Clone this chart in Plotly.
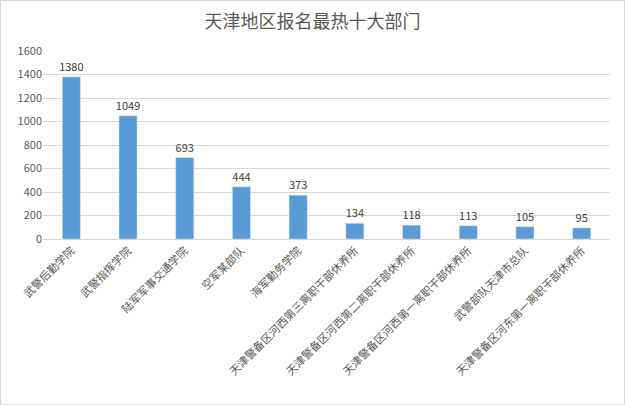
import plotly.graph_objects as go

categories = ["武警后勤学院", "武警指挥学院", "陆军军事交通学院", "空军某部队", "海军勤务学院",
              "天津警备区河西第三离职干部休养所", "天津警备区河西第二离职干部休养所",
              "天津警备区河西第一离职干部休养所", "武警部队天津市总队", "天津警备区河东第一离职干部休养所"]
values = [1380, 1049, 693, 444, 373, 134, 118, 113, 105, 95]
y_ticks = [0, 200, 400, 600, 800, 1000, 1200, 1400, 1600]

W, H = 625, 405
ml, mr, mt, mb = 43, 15, 51, 166
pw, ph = W - ml - mr, H - mt - mb

fig = go.Figure(go.Bar(
    x=categories, y=values, marker_color="#5B9BD5",
    text=values, textposition="outside", cliponaxis=False, constraintext="none",
    textfont=dict(size=11, color="#404040"),
))

fig.update_layout(
    width=W, height=H,
    margin=dict(l=ml, r=mr, t=mt, b=mb, autoexpand=False),
    paper_bgcolor="white", plot_bgcolor="white",
    font=dict(family="Noto Sans CJK SC", color="#595959", size=11),
    title=dict(text="天津地区报名最热十大部门", x=0.5, xanchor="center", y=1 - 22 / H, yanchor="middle",
               font=dict(size=18, color="#595959")),
    bargap=0.68,
    showlegend=False,
    uniformtext=dict(mode=False),
    shapes=[dict(type="rect", xref="paper", yref="paper",
                 x0=-ml / pw + 0.5 / pw, x1=1 + (mr - 0.5) / pw,
                 y0=-mb / ph + 0.5 / ph, y1=1 + (mt - 0.5) / ph,
                 line=dict(color="#D9D9D9", width=1))],
)
fig.update_xaxes(tickangle=-45, showline=True, linecolor="#D9D9D9", ticks="", automargin=False,
                 tickfont=dict(size=11, color="#595959"))
fig.update_yaxes(range=[0, 1600], tickvals=y_ticks, showgrid=True, gridcolor="#D9D9D9", automargin=False,
                 zeroline=False, showline=False, ticks="", tickfont=dict(size=11, color="#595959"))

fig.write_html("out.html", config={"displayModeBar": False},
               post_script="document.body.style.margin='0';document.body.style.overflow='hidden';")
